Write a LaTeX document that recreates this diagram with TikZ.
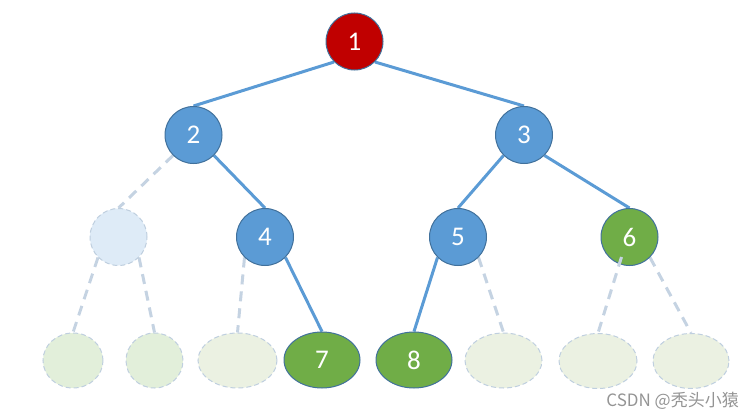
\documentclass[tikz,border=0pt]{standalone}
\usepackage{fontspec}
\usetikzlibrary{shapes.geometric,backgrounds}
\setmainfont{Carlito}
\newfontfamily\cjk{Noto Sans CJK SC}
\definecolor{nblue}{HTML}{5B9BD5}
\definecolor{nborder}{HTML}{41719C}
\definecolor{nred}{HTML}{C00000}
\definecolor{ngreen}{HTML}{70AD47}
\definecolor{ghostblue}{HTML}{DEEBF7}
\definecolor{ghostgreen}{HTML}{E2EFDA}
\definecolor{ghostgreenb}{HTML}{EBF1E2}
\definecolor{ghostline}{HTML}{C5D3E2}
\definecolor{ghostedge}{HTML}{BFCFDF}
\begin{document}
\begin{tikzpicture}[x=1pt,y=-1pt,
  treenode/.style={circle,draw=nborder,line width=1pt,minimum size=57pt,inner sep=0pt,text=white,font=\fontsize{27}{27}\selectfont},
  leaf/.style={ellipse,draw=nborder,line width=1pt,minimum width=76pt,minimum height=56pt,inner sep=0pt,text=white,font=\fontsize{27}{27}\selectfont},
  ghostc/.style={circle,draw=ghostedge,dash pattern=on 5pt off 3pt,line width=1pt,minimum size=57pt,inner sep=0pt,fill=ghostblue},
  ghoste/.style={ellipse,draw=ghostedge,dash pattern=on 5pt off 3pt,line width=1pt,minimum height=55pt,inner sep=0pt},
  treeedge/.style={draw=nblue,line width=3pt},
  ghostlink/.style={draw=ghostline,line width=3pt,dash pattern=on 10pt off 7pt}]
\useasboundingbox (0,0) rectangle (755,420);
% nodes
\node[treenode,fill=nred] (n1) at (354.5,41.5) {1};
\node[treenode,fill=nblue] (n2) at (193.5,135) {2};
\node[treenode,fill=nblue] (n3) at (524,135) {3};
\node[ghostc] (g1) at (118.5,237) {};
\node[treenode,fill=nblue] (n4) at (265,237) {4};
\node[treenode,fill=nblue] (n5) at (458,237) {5};
\node[treenode,fill=ngreen] (n6) at (629.5,237) {6};
\node[ghoste,fill=ghostgreen,minimum width=60pt] (b1) at (73,360.5) {};
\node[ghoste,fill=ghostgreen,minimum width=57pt] (b2) at (154.5,360.5) {};
\node[ghoste,fill=ghostgreenb,minimum width=79pt] (b3) at (237.5,360.5) {};
\node[leaf,fill=ngreen] (n7) at (322,360) {7};
\node[leaf,fill=ngreen] (n8) at (414,360) {8};
\node[ghoste,fill=ghostgreenb,minimum width=77pt] (b4) at (503.5,360.5) {};
\node[ghoste,fill=ghostgreenb,minimum width=78pt] (b5) at (598,361) {};
\node[ghoste,fill=ghostgreenb,minimum width=76pt] (b6) at (691,361) {};
\coordinate (c6) at (621.5,257);
% connectors behind nodes
\begin{scope}[on background layer]
\draw[treeedge] (n1.south west) -- (n2.north);
\draw[treeedge] (n1.south east) -- (n3.north);
\draw[treeedge] (n2.south east) -- (n4.north);
\draw[treeedge] (n3.south west) -- (n5.north);
\draw[treeedge] (n3.south east) -- (n6.north);
\draw[treeedge] (n4.south east) -- (n7.north);
\draw[treeedge] (n5.south west) -- (n8.north);
\draw[ghostlink] (n2.south west) -- (g1.north);
\draw[ghostlink] (g1.south west) -- (b1.north);
\draw[ghostlink] (g1.south east) -- (b2.north);
\draw[ghostlink] (n4.south west) -- (b3.north);
\draw[ghostlink] (n5.south east) -- (b4.north);
\draw[ghostlink] (n6.south east) -- (b6.north);
\end{scope}
\draw[ghostlink] (c6) -- (b5.north);
\node[font=\cjk\fontsize{17}{17}\selectfont,text=black!42,anchor=east,inner sep=0pt] (wm) at (739,401) {CSDN @秃头小猿};
\end{tikzpicture}
\end{document}
